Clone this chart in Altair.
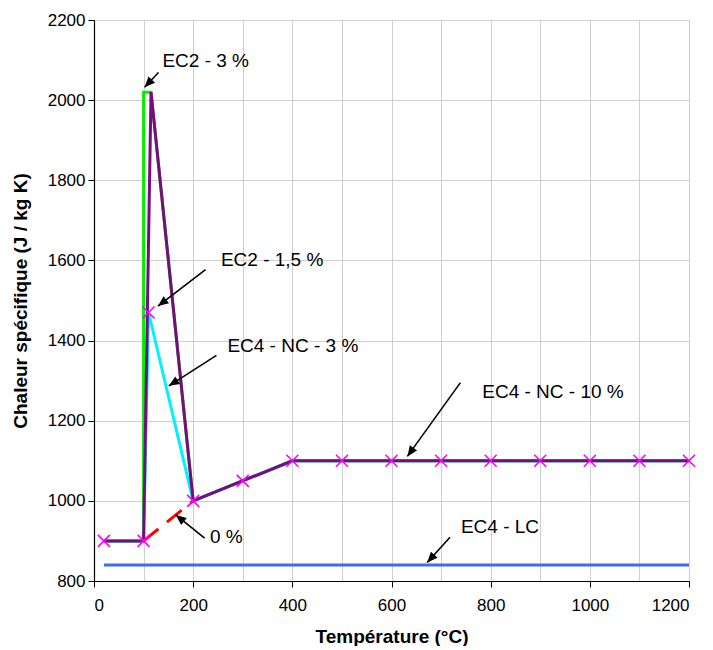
import math
import altair as alt
import pandas as pd

W, H = 595, 561
T_DOMAIN = [0, 1200]
V_DOMAIN = [800, 2200]
FONT = "Liberation Sans"

# ---- series data ----
lc_t = [20, 1200]
lc_v = [840, 840]

ec2_3_t = [20, 100, 100, 115, 200, 400, 1200]
ec2_3_v = [900, 900, 2020, 2020, 1000, 1100, 1100]

nc3_t = [20, 100, 110, 200, 400, 1200]
nc3_v = [900, 900, 1470, 1000, 1100, 1100]

nc10_t = [20, 100, 115, 200, 400, 1200]
nc10_v = [900, 900, 2020, 1000, 1100, 1100]

zero_t = [100, 200]
zero_v = [900, 1000]

ec2_15_t = [20, 100, 110, 200, 300, 400, 500, 600, 700, 800, 900, 1000, 1100, 1200]
ec2_15_v = [900, 900, 1470, 1000, 1050, 1100, 1100, 1100, 1100, 1100, 1100, 1100, 1100, 1100]

# ---- annotations ----
ann_text = ["EC2 - 3 %", "EC2 - 1,5 %", "EC4 - NC - 3 %", "EC4 - NC - 10 %", "EC4 - LC", "0 %"]
ann_t = [138, 256, 269, 783, 740, 234]
ann_v = [2097, 1602, 1387, 1272, 935, 909]
tail_t = [130, 225, 247, 739, 718, 223]
tail_v = [2069, 1577, 1363, 1295, 909, 907]
tip_t = [102, 129, 151, 632, 672, 165]
tip_v = [2032, 1486, 1287, 1111, 846, 965]


def frame(ts, vs):
    return pd.DataFrame({"t": ts, "v": vs, "i": list(range(len(ts)))})


x_scale = alt.Scale(domain=T_DOMAIN, nice=False, zero=False)
y_scale = alt.Scale(domain=V_DOMAIN, nice=False, zero=False)

y_axis = alt.Axis(
    values=list(range(800, 2201, 200)), grid=True, gridColor="#cfcfcf", gridWidth=1,
    tickSize=6, tickColor="black", domainColor="black", domainWidth=1.2, format="d",
    labelFont=FONT, labelFontSize=17, labelColor="black", labelPadding=3,
    title="Chaleur spécifique (J / kg K)", titleFont=FONT, titleFontSize=19,
    titleFontWeight="bold", titleColor="black", titlePadding=17, orient="left",
)
x_axis_main = alt.Axis(
    values=list(range(0, 1201, 200)), grid=False, orient="bottom", format="d",
    tickSize=6, tickColor="black", domainColor="black", domainWidth=1.2,
    labelFont=FONT, labelFontSize=17, labelColor="black", labelPadding=10,
    title="Température (°C)", titleFont=FONT, titleFontSize=19,
    titleFontWeight="bold", titleColor="black", titlePadding=14,
)
x_axis_grid = alt.Axis(
    values=list(range(0, 1201, 100)), grid=True, gridColor="#cfcfcf", gridWidth=1,
    orient="top", labels=False, ticks=False, domain=False, title=None,
)


def line_layer(ts, vs, color, x_axis=None, y_axis_=None, dash=None, width=3):
    kw = dict(color=color, strokeWidth=width, strokeCap="butt", strokeJoin="miter")
    if dash:
        kw["strokeDash"] = dash
    return alt.Chart(frame(ts, vs)).mark_line(**kw).encode(
        x=alt.X("t:Q", scale=x_scale, axis=x_axis),
        y=alt.Y("v:Q", scale=y_scale, axis=y_axis_),
        order="i:Q",
    )


lc = line_layer(lc_t, lc_v, "#3d6ee8", x_axis=x_axis_grid, y_axis_=y_axis)
ec2_3 = line_layer(ec2_3_t, ec2_3_v, "#00ee00")
nc3 = line_layer(nc3_t, nc3_v, "#00f0ff")
nc10 = line_layer(nc10_t, nc10_v, "#7a0a80", x_axis=x_axis_main)
zero = line_layer(zero_t, zero_v, "#ff0000", dash=[19, 11])

markers = alt.Chart(frame(ec2_15_t, ec2_15_v)).mark_point(
    shape="M-1,-1L1,1M-1,1L1,-1", size=144, filled=False, stroke="#ff00ff", strokeWidth=1.6, opacity=1
).encode(
    x=alt.X("t:Q", scale=x_scale, axis=None),
    y=alt.Y("v:Q", scale=y_scale, axis=None),
)

# arrows
angles = []
for a, b, c, d in zip(tail_t, tail_v, tip_t, tip_v):
    dx = (c - a) / (T_DOMAIN[1] - T_DOMAIN[0]) * W
    dy = -(d - b) / (V_DOMAIN[1] - V_DOMAIN[0]) * H
    angles.append(math.degrees(math.atan2(dx, -dy)) % 360)

ann_df = pd.DataFrame({
    "label": ann_text, "t": ann_t, "v": ann_v,
    "t0": tail_t, "v0": tail_v, "t1": tip_t, "v1": tip_v, "ang": angles,
})

shafts = alt.Chart(ann_df).mark_rule(color="black", strokeWidth=1.6).encode(
    x=alt.X("t0:Q", scale=x_scale, axis=None),
    y=alt.Y("v0:Q", scale=y_scale, axis=None),
    x2="t1:Q",
    y2="v1:Q",
)
heads = alt.Chart(ann_df).mark_point(
    shape="M0,0L-0.45,1.05L0.45,1.05Z", size=400, filled=True, color="black", opacity=1
).encode(
    x=alt.X("t1:Q", scale=x_scale, axis=None),
    y=alt.Y("v1:Q", scale=y_scale, axis=None),
    angle=alt.Angle("ang:Q", scale=None),
)
texts = alt.Chart(ann_df).mark_text(
    align="left", baseline="middle", font=FONT, fontSize=19, color="black"
).encode(
    x=alt.X("t:Q", scale=x_scale, axis=None),
    y=alt.Y("v:Q", scale=y_scale, axis=None),
    text="label:N",
)

chart = alt.layer(
    lc, ec2_3, nc3, nc10, zero, markers, shafts, heads, texts
).resolve_axis(x="independent", y="independent").properties(
    width=W, height=H, padding={"left": 3, "top": 3, "right": 0, "bottom": 0}
).configure_view(stroke="#8c8c8c", strokeWidth=1.5).configure(background="white")

chart.save("out.html", embed_options={"renderer": "svg", "actions": False})
